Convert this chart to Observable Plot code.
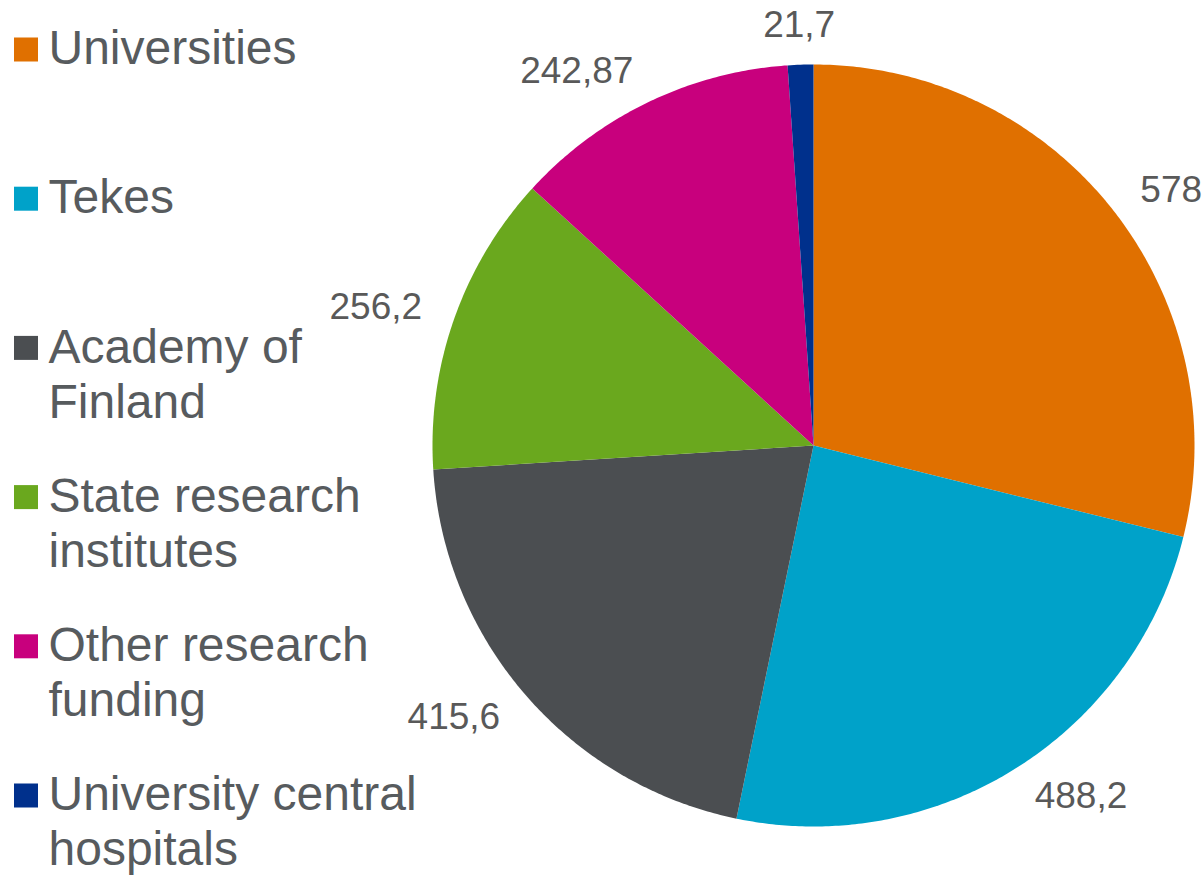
<!DOCTYPE html>
<html>
<head>
<meta charset="utf-8">
<script src="https://cdn.jsdelivr.net/npm/d3@7"></script>
<script src="https://cdn.jsdelivr.net/npm/@observablehq/plot@0.6"></script>
<style>
  html, body { margin: 0; padding: 0; background: #ffffff; }
  #chart { width: 1203px; height: 876px; overflow: hidden; }
</style>
</head>
<body>
<div id="chart"></div>
<script>
// ---- Data ----
const categories = ["Universities", "Tekes", "Academy of Finland", "State research institutes", "Other research funding", "University central hospitals"];
const values = [578, 488.2, 415.6, 256.2, 242.87, 21.7];
const valueLabels = ["578", "488,2", "415,6", "256,2", "242,87", "21,7"];
const legendLabels = ["Universities", "Tekes", "Academy of\nFinland", "State research\ninstitutes", "Other research\nfunding", "University central\nhospitals"];
const colors = ["#E07000", "#00A2C9", "#4B4E51", "#6AA81E", "#C8007D", "#00308C"];

// ---- Layout ----
const W = 1203, H = 876;
const cx = 813, cy = 445, R = 381;
const labelR = R + 34;
const legendFirstBaseline = 65, legendStep = 149.2;
const legendFont = 48, labelFont = 37;

const rows = categories.map((name, i) => ({ name, value: values[i], label: valueLabels[i], legend: legendLabels[i], i }));
const arcs = d3.pie().sort(null).value(d => d.value).startAngle(0).endAngle(2 * Math.PI)(rows);

// slice polygons
const polyPts = [];
for (const a of arcs) {
  const n = Math.max(2, Math.ceil((a.endAngle - a.startAngle) / (Math.PI / 360)));
  polyPts.push({ name: a.data.name, x: cx, y: cy });
  for (let k = 0; k <= n; k++) {
    const t = a.startAngle + (a.endAngle - a.startAngle) * k / n;
    polyPts.push({ name: a.data.name, x: cx + R * Math.sin(t), y: cy - R * Math.cos(t) });
  }
  polyPts.push({ name: a.data.name, x: cx, y: cy });
}

// value labels
const labelPts = arcs.map(a => {
  const m = (a.startAngle + a.endAngle) / 2;
  const s = Math.sin(m);
  const side = s > 0.2 ? "start" : s < -0.2 ? "end" : "middle";
  const r = side === "middle" ? labelR + 6 : labelR;
  return { label: a.data.label, x: cx + r * s, y: cy - r * Math.cos(m), side };
});

// legend
const legendRows = rows.map((d, i) => {
  const baseline = legendFirstBaseline + i * legendStep;
  return { name: d.name, legend: d.legend, y: baseline - 0.84 * legendFont, sy1: baseline - 15.5 - 12, sy2: baseline - 15.5 + 12 };
});

const labelMark = side => Plot.text(labelPts.filter(d => d.side === side), {
  x: "x", y: "y", text: "label", textAnchor: side, lineAnchor: "middle",
  fontSize: labelFont, fill: "#595959"
});

const chart = Plot.plot({
  width: W, height: H,
  marginTop: 0, marginRight: 0, marginBottom: 0, marginLeft: 0,
  x: { domain: [0, W], range: [0, W], axis: null },
  y: { domain: [0, H], range: [0, H], axis: null },
  color: { domain: categories, range: colors },
  style: { fontFamily: "'Liberation Sans', Arial, sans-serif", background: "#ffffff", overflow: "visible" },
  marks: [
    Plot.line(polyPts, { x: "x", y: "y", z: "name", fill: "name", stroke: "none", curve: "linear" }),
    labelMark("start"), labelMark("end"), labelMark("middle"),
    Plot.rect(legendRows, { x1: () => 14, x2: () => 38, y1: "sy1", y2: "sy2", fill: "name" }),
    Plot.text(legendRows, {
      x: () => 48, y: "y", text: "legend", textAnchor: "start", lineAnchor: "top",
      lineHeight: 55 / legendFont, fontSize: legendFont, fill: "#575B5E"
    })
  ]
});
document.getElementById("chart").appendChild(chart);
</script>
</body>
</html>
